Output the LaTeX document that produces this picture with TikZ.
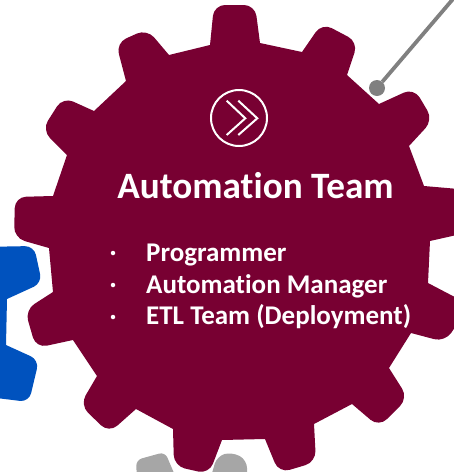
\documentclass[tikz,border=0pt]{standalone}
\usepackage{fontspec}
\setmainfont{Carlito}[RawFeature=-liga]
\definecolor{gearred}{HTML}{780032}
\definecolor{gearblue}{HTML}{0052BE}
\definecolor{geargray}{HTML}{A6A6A6}
\definecolor{pingray}{HTML}{808080}
\tikzset{
    listitem/.style={anchor=base west, text=white, inner sep=0pt, font=\fontsize{27}{27}\selectfont\bfseries},
    bulletdot/.style={circle, fill=white, inner sep=0pt, minimum size=4.5pt},
    pinline/.style={draw=pingray, line width=3.8pt}
}
\begin{document}
\begin{tikzpicture}[x=1pt,y=-1pt]
    % Page size: 454 x 472, one unit = one reference pixel
    \useasboundingbox (0,0) rectangle (454,472);
    \clip (0,0) rectangle (454,472);

    % Blue gear at the left edge
    \fill[gearblue, rounded corners=9pt] (-20,247) -- (34,246) -- (42,283) [sharp corners] -- (7,299) -- (6,345)
        [rounded corners=9pt] -- (39,360) -- (29,402) -- (-20,396) -- cycle;

    % Gray gear at the bottom edge
    \fill[geargray, rounded corners=6pt] (137,480) -- (136,460) -- (165,452) -- (177,480) -- cycle;
    \fill[geargray, rounded corners=8pt] (210,480) -- (217,456) -- (232,452) -- (247,460) -- (247,480) -- cycle;

    % Pin from the upper right
    \coordinate (pinend) at (453,-1);
    \node[circle, fill=pingray, inner sep=0pt, minimum size=16pt] (pinhead) at (377,88) {};
    \draw[pinline] (pinhead) -- (pinend);

    % Main gear, sharp in the valleys and rounded on the teeth
    \fill[gearred, rounded corners=11pt]
        (210,45) -- (214,5) -- (255,5) [sharp corners] -- (260,43) -- (302,52)
        [rounded corners=11pt] -- (322,23) -- (358,42) [sharp corners] -- (347,75) -- (379,104)
        [rounded corners=11pt] -- (414,88) -- (433,120) [sharp corners] -- (409,146) -- (424,186)
        [rounded corners=11pt] -- (470,190) -- (470,232) [sharp corners] -- (430,241) -- (428,283)
        [rounded corners=11pt] -- (470,305) -- (445,342) [sharp corners] -- (411,333) -- (389,368)
        [rounded corners=11pt] -- (408,398) -- (379,427) [sharp corners] -- (352,404) -- (314,424)
        [rounded corners=11pt] -- (316,462) -- (279,473) [sharp corners] -- (265,439) -- (222,440)
        [rounded corners=11pt] -- (209,474) -- (174,466) [sharp corners] -- (173,429) -- (136,409)
        [rounded corners=11pt] -- (109,433) -- (80,405) [sharp corners] -- (97,376) -- (73,340)
        [rounded corners=11pt] -- (36,348) -- (25,310) [sharp corners] -- (53,292) -- (49,248)
        [rounded corners=11pt] -- (14,238) -- (15,197) [sharp corners] -- (53,196) -- (67,155)
        [rounded corners=11pt] -- (42,130) -- (63,97) [sharp corners] -- (94,111) -- (126,81)
        [rounded corners=11pt] -- (116,43) -- (147,29) [sharp corners] -- (169,55) -- cycle;

    % Icon with the double chevron
    \node[circle, draw=white, line width=2pt, inner sep=0pt, minimum size=56pt] (icon) at (239,118) {};
    \draw[white, line width=2pt] (226.7,100.7) -- (245.3,118.3) -- (226.7,135);
    \draw[white, line width=2pt] (238.3,100.7) -- (257.3,118.3) -- (238.3,135);

    % Title and list
    \node[anchor=base, text=white, inner sep=0pt, font=\fontsize{37.2}{37.2}\selectfont\bfseries] (title) at (255.5,198) {Automation Team};
    \node[listitem] (item1) at (146,261) {Programmer};
    \node[listitem] (item2) at (146,293) {Automation Manager};
    \node[listitem] (item3) at (146,324) {ETL Team (Deployment)};
    \foreach \y in {253,285,317} {
        \node[bulletdot] at (113,\y) {};
    }
\end{tikzpicture}
\end{document}
